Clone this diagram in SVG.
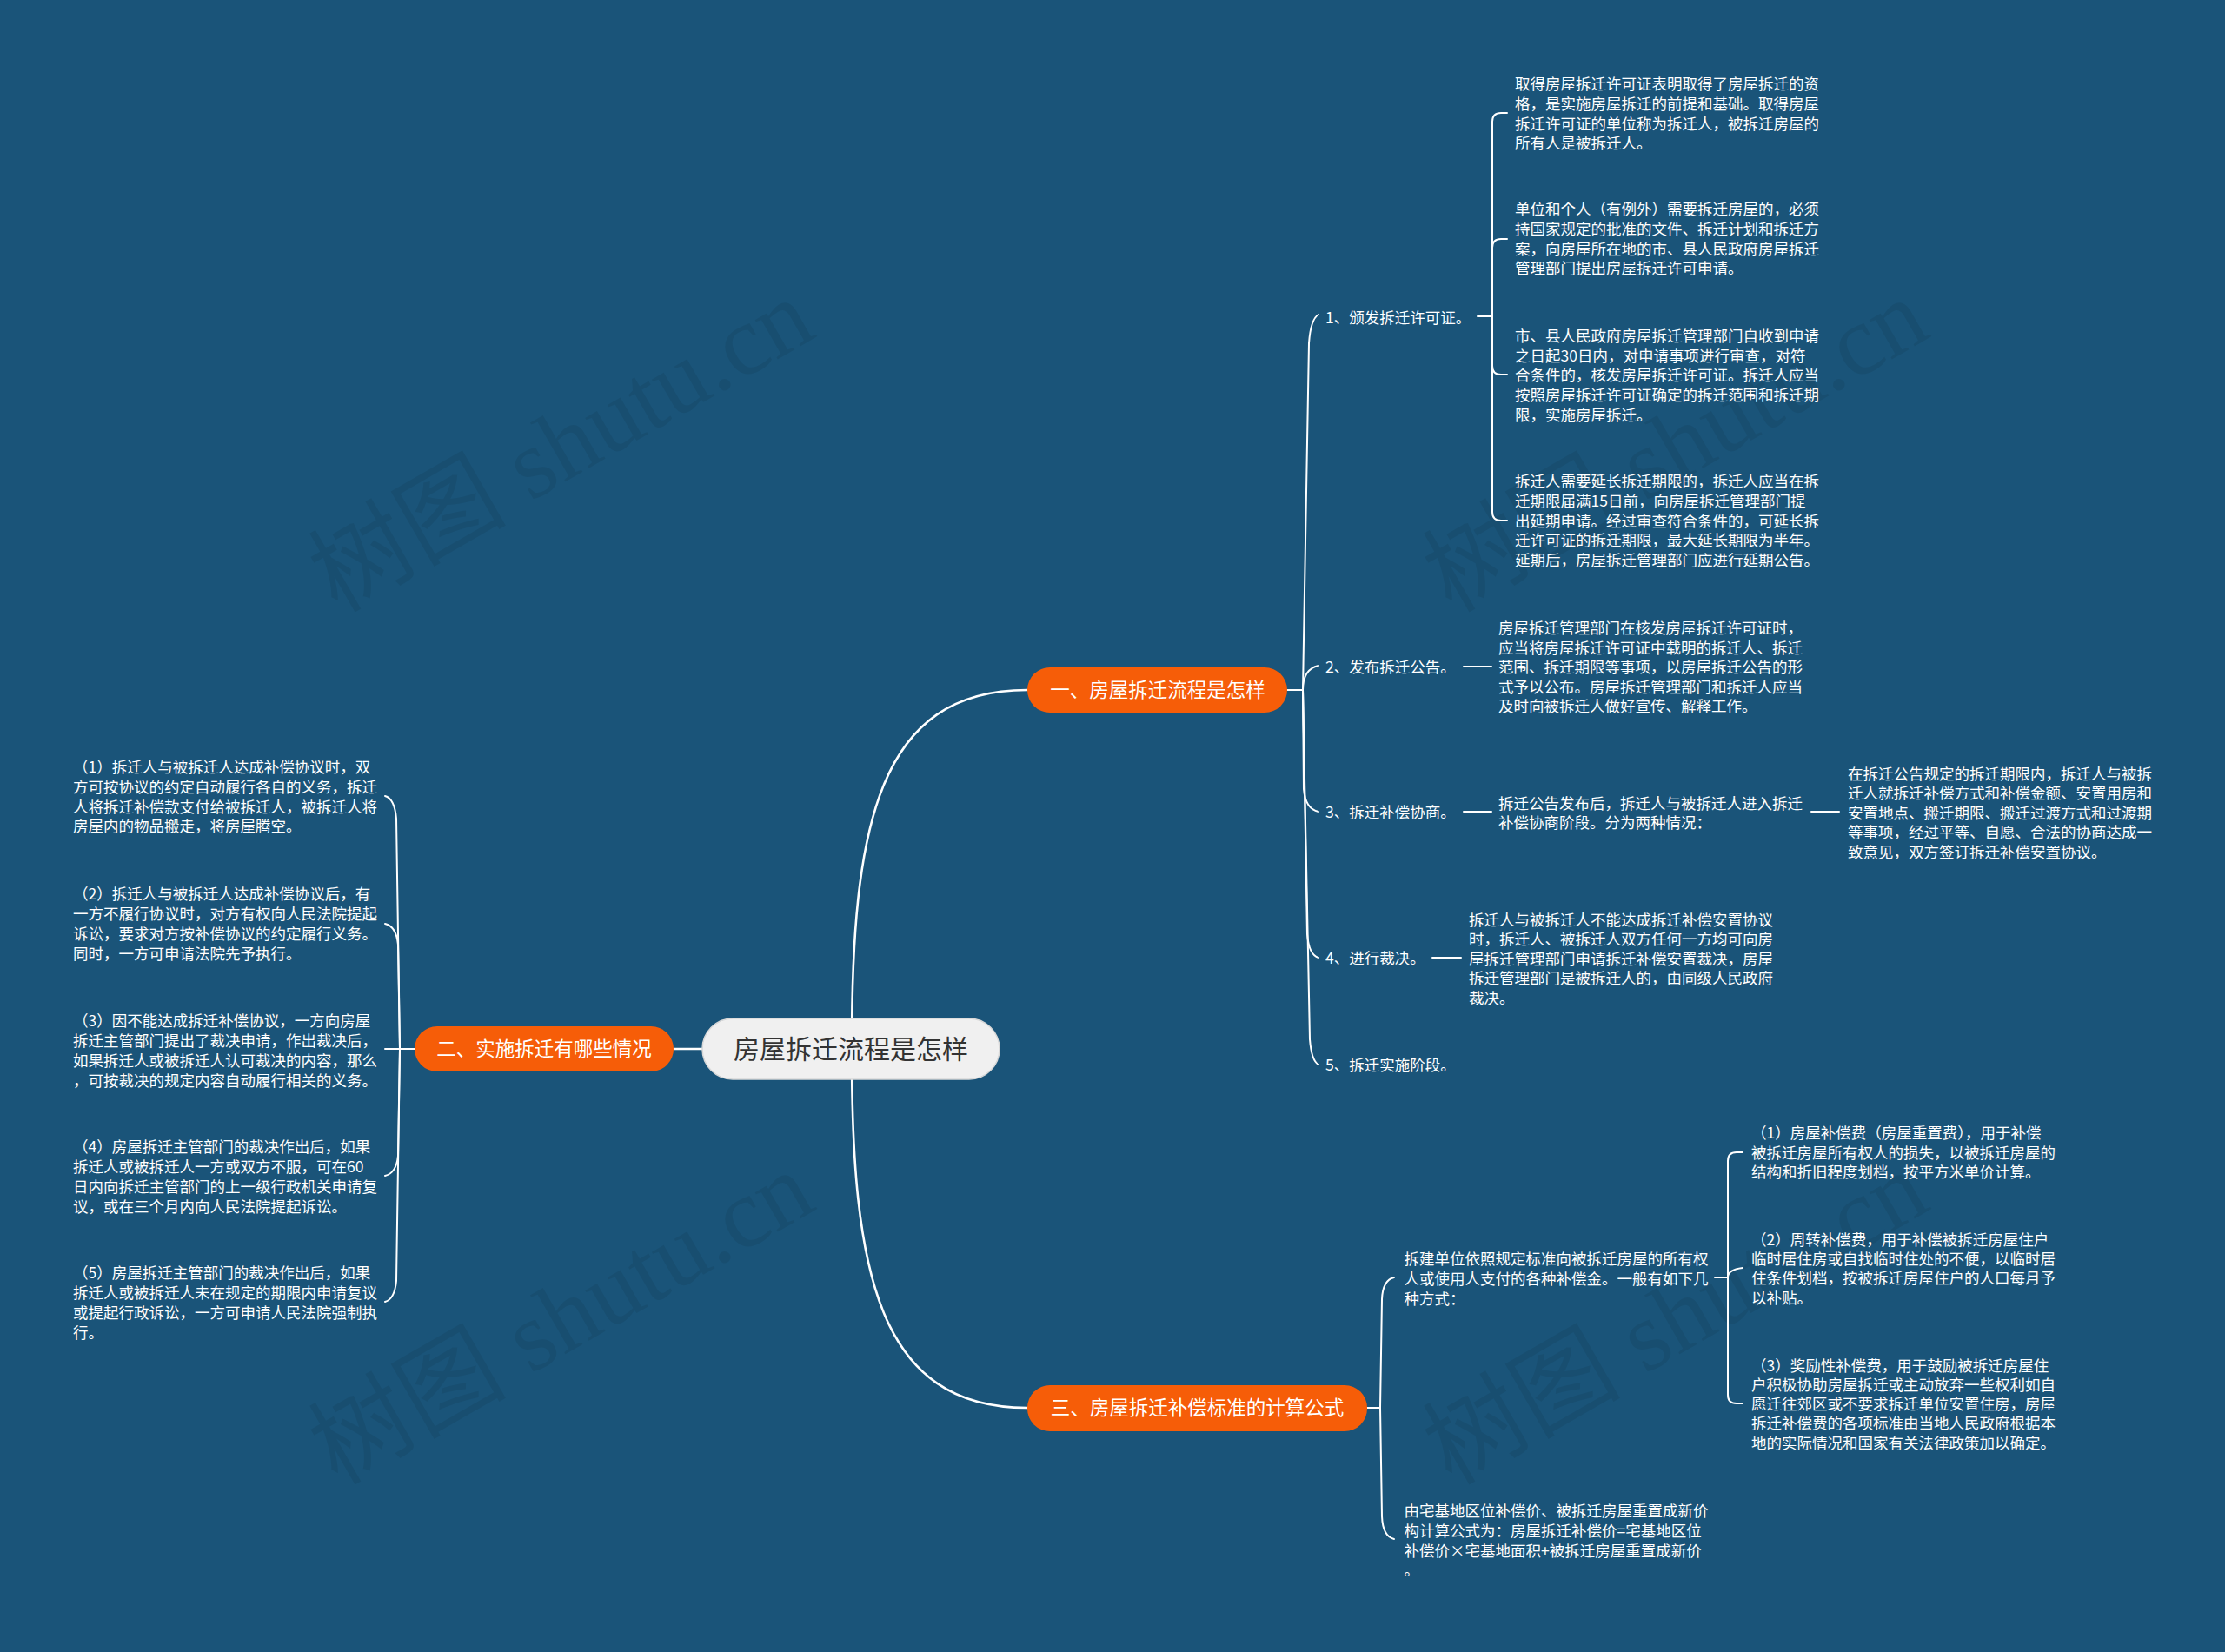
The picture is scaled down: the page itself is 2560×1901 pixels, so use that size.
<svg xmlns="http://www.w3.org/2000/svg" width="2560" height="1901" viewBox="0 0 2560 1901">
<style>
.bg{fill:#1a5479}
.wm{font-family:"Liberation Serif","Noto Sans CJK SC",serif;font-size:114px;fill:#000;fill-opacity:0.07}
.c{fill:none;stroke:#fff;stroke-width:2;stroke-linecap:round}
.cm{fill:none;stroke:#fff;stroke-width:2.6;stroke-linecap:round}
.t{font-family:"Noto Sans CJK SC","Noto Sans",sans-serif;font-size:17.5px;fill:#fff}
.br{fill:#f65d08}
.bt{font-family:"Noto Sans CJK SC","Noto Sans",sans-serif;font-size:22.5px;fill:#fff;text-anchor:middle}
.root{fill:#f0f0f0;stroke:#d8d8d8;stroke-width:1.5}
.rt{font-family:"Noto Sans CJK SC","Noto Sans",sans-serif;font-size:30px;fill:#333;text-anchor:middle}
</style>
<rect class="bg" x="0" y="0" width="2560" height="1901"/>
<g id="watermarks">
<text class="wm" transform="translate(388,706) rotate(-30)">树图 shutu.cn</text>
<text class="wm" transform="translate(388,1710) rotate(-30)">树图 shutu.cn</text>
<text class="wm" transform="translate(1670,706) rotate(-30)">树图 shutu.cn</text>
<text class="wm" transform="translate(1670,1710) rotate(-30)">树图 shutu.cn</text>
</g>
<g id="connectors">
<path class="cm" d="M980,1207 C980,950 1010,794 1182,794"/>
<path class="cm" d="M980,1207 C980,1464 1010,1620 1182,1620"/>
<path class="cm" d="M775,1207 L810,1207"/>
<path class="c" d="M1481,794 H1499"/>
<path class="c" d="M1499,794 L1506,395 Q1508,367 1517,362"/>
<path class="c" d="M1499,794 Q1499,770 1517,766"/>
<path class="c" d="M1499,794 L1500,908 Q1502,931 1517,934"/>
<path class="c" d="M1499,794 L1504,1075 Q1506,1099 1517,1102"/>
<path class="c" d="M1499,794 L1507,1196 Q1509,1221 1517,1225"/>
<path class="c" d="M1700,364 H1717"/>
<path class="c" d="M1717,364 L1717,140 Q1717,130 1727,130 L1734,130"/>
<path class="c" d="M1717,364 L1717,285 Q1717,275 1727,275 L1734,275"/>
<path class="c" d="M1717,364 L1717,421 Q1717,431 1727,431 L1734,431"/>
<path class="c" d="M1717,364 L1717,589 Q1717,599 1727,599 L1734,599"/>
<path class="c" d="M1684,767 H1716"/>
<path class="c" d="M1684,934 H1716"/>
<path class="c" d="M2084,934 H2116"/>
<path class="c" d="M1648,1102 H1681"/>
<path class="c" d="M477,1207 H443"/>
<path class="c" d="M460,1207 L456,942 Q454,919 443,916"/>
<path class="c" d="M460,1207 L458,1087 Q456,1066 443,1063"/>
<path class="c" d="M460,1207 L458,1330 Q456,1350 443,1353"/>
<path class="c" d="M460,1207 L456,1474 Q454,1495 443,1498"/>
<path class="c" d="M1573,1620 H1588"/>
<path class="c" d="M1588,1620 L1590,1495 Q1591,1473 1604,1470"/>
<path class="c" d="M1588,1620 L1590,1745 Q1591,1768 1604,1771"/>
<path class="c" d="M1973,1470 H1988"/>
<path class="c" d="M1988,1470 L1988,1336 Q1988,1326 1998,1326 L2005,1326"/>
<path class="c" d="M1988,1470 Q1988,1461 2005,1459"/>
<path class="c" d="M1988,1470 L1988,1605 Q1988,1615 1998,1615 L2005,1615"/>
</g>
<g id="root">
<rect class="root" x="808" y="1172" width="342" height="70" rx="35"/>
<text class="rt" x="979" y="1218">房屋拆迁流程是怎样</text>
</g>
<g id="b1">
<rect class="br" x="1182" y="768" width="299" height="52" rx="26"/>
<text class="bt" x="1332" y="802">一、房屋拆迁流程是怎样</text>
</g>
<g id="b2">
<rect class="br" x="477" y="1181" width="298" height="52" rx="26"/>
<text class="bt" x="626" y="1215">二、实施拆迁有哪些情况</text>
</g>
<g id="b3">
<rect class="br" x="1182" y="1594" width="391" height="53" rx="26"/>
<text class="bt" x="1377.5" y="1628">三、房屋拆迁补偿标准的计算公式</text>
</g>
<g id="n1">
<text class="t" x="1525" y="371.5">1、颁发拆迁许可证。</text>
</g>
<g id="n1a">
<text class="t" x="1743" y="103">取得房屋拆迁许可证表明取得了房屋拆迁的资</text>
<text class="t" x="1743" y="125.8">格，是实施房屋拆迁的前提和基础。取得房屋</text>
<text class="t" x="1743" y="148.5">拆迁许可证的单位称为拆迁人，被拆迁房屋的</text>
<text class="t" x="1743" y="171">所有人是被拆迁人。</text>
</g>
<g id="n1b">
<text class="t" x="1743" y="247">单位和个人（有例外）需要拆迁房屋的，必须</text>
<text class="t" x="1743" y="269.8">持国家规定的批准的文件、拆迁计划和拆迁方</text>
<text class="t" x="1743" y="292.6">案，向房屋所在地的市、县人民政府房屋拆迁</text>
<text class="t" x="1743" y="315.4">管理部门提出房屋拆迁许可申请。</text>
</g>
<g id="n1c">
<text class="t" x="1743" y="393">市、县人民政府房屋拆迁管理部门自收到申请</text>
<text class="t" x="1743" y="415.7">之日起30日内，对申请事项进行审查，对符</text>
<text class="t" x="1743" y="438.4">合条件的，核发房屋拆迁许可证。拆迁人应当</text>
<text class="t" x="1743" y="461.1">按照房屋拆迁许可证确定的拆迁范围和拆迁期</text>
<text class="t" x="1743" y="483.8">限，实施房屋拆迁。</text>
</g>
<g id="n1d">
<text class="t" x="1743" y="560.2">拆迁人需要延长拆迁期限的，拆迁人应当在拆</text>
<text class="t" x="1743" y="582.9">迁期限届满15日前，向房屋拆迁管理部门提</text>
<text class="t" x="1743" y="605.6">出延期申请。经过审查符合条件的，可延长拆</text>
<text class="t" x="1743" y="628.3">迁许可证的拆迁期限，最大延长期限为半年。</text>
<text class="t" x="1743" y="651">延期后，房屋拆迁管理部门应进行延期公告。</text>
</g>
<g id="n2">
<text class="t" x="1525" y="773.5">2、发布拆迁公告。</text>
</g>
<g id="n2a">
<text class="t" x="1724" y="729">房屋拆迁管理部门在核发房屋拆迁许可证时，</text>
<text class="t" x="1724" y="751.5">应当将房屋拆迁许可证中载明的拆迁人、拆迁</text>
<text class="t" x="1724" y="774">范围、拆迁期限等事项，以房屋拆迁公告的形</text>
<text class="t" x="1724" y="796.5">式予以公布。房屋拆迁管理部门和拆迁人应当</text>
<text class="t" x="1724" y="819">及时向被拆迁人做好宣传、解释工作。</text>
</g>
<g id="n3">
<text class="t" x="1525" y="941">3、拆迁补偿协商。</text>
</g>
<g id="n3a">
<text class="t" x="1724" y="930.5">拆迁公告发布后，拆迁人与被拆迁人进入拆迁</text>
<text class="t" x="1724" y="953">补偿协商阶段。分为两种情况：</text>
</g>
<g id="n3b">
<text class="t" x="2126" y="896.5">在拆迁公告规定的拆迁期限内，拆迁人与被拆</text>
<text class="t" x="2126" y="919">迁人就拆迁补偿方式和补偿金额、安置用房和</text>
<text class="t" x="2126" y="941.5">安置地点、搬迁期限、搬迁过渡方式和过渡期</text>
<text class="t" x="2126" y="964">等事项，经过平等、自愿、合法的协商达成一</text>
<text class="t" x="2126" y="986.5">致意见，双方签订拆迁补偿安置协议。</text>
</g>
<g id="n4">
<text class="t" x="1525" y="1109">4、进行裁决。</text>
</g>
<g id="n4a">
<text class="t" x="1690" y="1064.5">拆迁人与被拆迁人不能达成拆迁补偿安置协议</text>
<text class="t" x="1690" y="1087">时，拆迁人、被拆迁人双方任何一方均可向房</text>
<text class="t" x="1690" y="1109.5">屋拆迁管理部门申请拆迁补偿安置裁决，房屋</text>
<text class="t" x="1690" y="1132">拆迁管理部门是被拆迁人的，由同级人民政府</text>
<text class="t" x="1690" y="1154.5">裁决。</text>
</g>
<g id="n5">
<text class="t" x="1525" y="1232">5、拆迁实施阶段。</text>
</g>
<g id="l1">
<text class="t" x="84" y="889">（1）拆迁人与被拆迁人达成补偿协议时，双</text>
<text class="t" x="84" y="911.8">方可按协议的约定自动履行各自的义务，拆迁</text>
<text class="t" x="84" y="934.6">人将拆迁补偿款支付给被拆迁人，被拆迁人将</text>
<text class="t" x="84" y="957.4">房屋内的物品搬走，将房屋腾空。</text>
</g>
<g id="l2">
<text class="t" x="84" y="1035.3">（2）拆迁人与被拆迁人达成补偿协议后，有</text>
<text class="t" x="84" y="1058.1">一方不履行协议时，对方有权向人民法院提起</text>
<text class="t" x="84" y="1080.9">诉讼，要求对方按补偿协议的约定履行义务。</text>
<text class="t" x="84" y="1103.7">同时，一方可申请法院先予执行。</text>
</g>
<g id="l3">
<text class="t" x="84" y="1181.2">（3）因不能达成拆迁补偿协议，一方向房屋</text>
<text class="t" x="84" y="1204">拆迁主管部门提出了裁决申请，作出裁决后，</text>
<text class="t" x="84" y="1226.8">如果拆迁人或被拆迁人认可裁决的内容，那么</text>
<text class="t" x="84" y="1249.6">，可按裁决的规定内容自动履行相关的义务。</text>
</g>
<g id="l4">
<text class="t" x="84" y="1326.3">（4）房屋拆迁主管部门的裁决作出后，如果</text>
<text class="t" x="84" y="1349.1">拆迁人或被拆迁人一方或双方不服，可在60</text>
<text class="t" x="84" y="1371.9">日内向拆迁主管部门的上一级行政机关申请复</text>
<text class="t" x="84" y="1394.7">议，或在三个月内向人民法院提起诉讼。</text>
</g>
<g id="l5">
<text class="t" x="84" y="1471.4">（5）房屋拆迁主管部门的裁决作出后，如果</text>
<text class="t" x="84" y="1494.2">拆迁人或被拆迁人未在规定的期限内申请复议</text>
<text class="t" x="84" y="1517">或提起行政诉讼，一方可申请人民法院强制执</text>
<text class="t" x="84" y="1539.8">行。</text>
</g>
<g id="m1">
<text class="t" x="1615.5" y="1455.1">拆建单位依照规定标准向被拆迁房屋的所有权</text>
<text class="t" x="1615.5" y="1478">人或使用人支付的各种补偿金。一般有如下几</text>
<text class="t" x="1615.5" y="1500.8">种方式：</text>
</g>
<g id="m1a">
<text class="t" x="2015" y="1310.4">（1）房屋补偿费（房屋重置费），用于补偿</text>
<text class="t" x="2015" y="1332.6">被拆迁房屋所有权人的损失，以被拆迁房屋的</text>
<text class="t" x="2015" y="1354.8">结构和折旧程度划档，按平方米单价计算。</text>
</g>
<g id="m1b">
<text class="t" x="2015" y="1432.5">（2）周转补偿费，用于补偿被拆迁房屋住户</text>
<text class="t" x="2015" y="1455">临时居住房或自找临时住处的不便，以临时居</text>
<text class="t" x="2015" y="1477.4">住条件划档，按被拆迁房屋住户的人口每月予</text>
<text class="t" x="2015" y="1499.8">以补贴。</text>
</g>
<g id="m1c">
<text class="t" x="2015" y="1577.5">（3）奖励性补偿费，用于鼓励被拆迁房屋住</text>
<text class="t" x="2015" y="1599.8">户积极协助房屋拆迁或主动放弃一些权利如自</text>
<text class="t" x="2015" y="1622.1">愿迁往郊区或不要求拆迁单位安置住房，房屋</text>
<text class="t" x="2015" y="1644.4">拆迁补偿费的各项标准由当地人民政府根据本</text>
<text class="t" x="2015" y="1666.7">地的实际情况和国家有关法律政策加以确定。</text>
</g>
<g id="m2">
<text class="t" x="1615.5" y="1745.1">由宅基地区位补偿价、被拆迁房屋重置成新价</text>
<text class="t" x="1615.5" y="1767.8">构计算公式为：房屋拆迁补偿价=宅基地区位</text>
<text class="t" x="1615.5" y="1790.5">补偿价×宅基地面积+被拆迁房屋重置成新价</text>
<text class="t" x="1615.5" y="1813.2">。</text>
</g>
</svg>
